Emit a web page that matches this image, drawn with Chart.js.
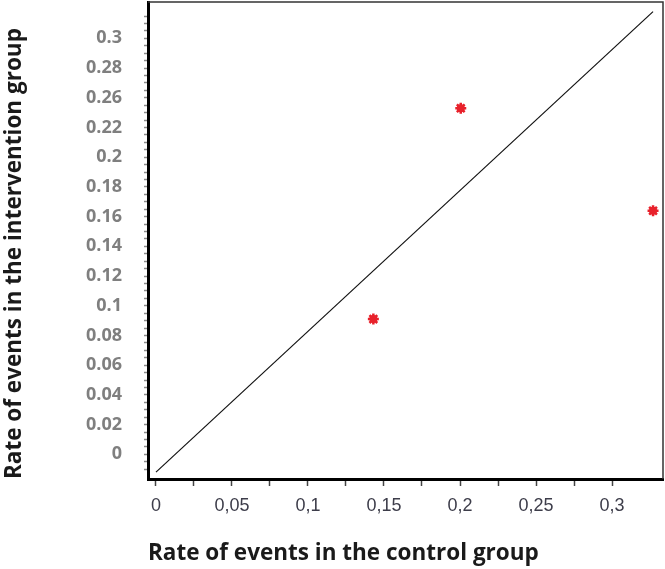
<!DOCTYPE html>
<html>
<head>
<meta charset="utf-8">
<script src="https://cdn.jsdelivr.net/npm/chart.js@4.4.1/dist/chart.umd.min.js"></script>
<style>
    body { margin: 0; background: #fff; }
    #wrap { width: 665px; height: 569px; }
</style>
</head>
<body>
<div id="wrap"><canvas id="scatter" width="665" height="569"></canvas></div>
<script>
// values
const controlRates = [0.143, 0.2005, 0.327];
const interventionRates = [0.091, 0.233, 0.164];

// the y = x reference line, as drawn
const lineX = [0, 0.327];
const lineY = [-0.012, 0.298];

const xTickLabels = ['0', '0,05', '0,1', '0,15', '0,2', '0,25', '0,3'];
const yTickLabels = ['0', '0.02', '0.04', '0.06', '0.08', '0.1', '0.12', '0.14', '0.16', '0.18', '0.2', '0.22', '0.26', '0.28', '0.3'];

const xTitle = 'Rate of events in the control group';
const yTitle = 'Rate of events in the intervention group';

const points = controlRates.map((x, i) => ({ x: x, y: interventionRates[i] }));
const diagonal = lineX.map((x, i) => ({ x: x, y: lineY[i] }));

// thin top and right edge of the frame
const framePlugin = {
    id: 'frame',
    afterDraw(chart) {
        const { ctx, chartArea: a } = chart;
        ctx.save();
        ctx.strokeStyle = '#333';
        ctx.lineWidth = 1.5;
        ctx.beginPath();
        ctx.moveTo(a.left, a.top);
        ctx.lineTo(a.right, a.top);
        ctx.lineTo(a.right, a.bottom);
        ctx.stroke();
        ctx.restore();
    }
};

// keep the plot box where it is in the picture
function noPadding(scale) {
    scale.paddingTop = 0;
    scale.paddingBottom = 0;
    scale.paddingLeft = 0;
    scale.paddingRight = 0;
}

const red = '#e8212b';

new Chart(document.getElementById('scatter'), {
    type: 'scatter',
    data: {
        datasets: [
            {
                data: diagonal,
                showLine: true,
                borderColor: '#111',
                borderWidth: 1.2,
                pointRadius: 0,
                order: 3
            },
            {
                data: points,
                pointStyle: 'star',
                radius: 5.5,
                borderWidth: 2.5,
                borderColor: red,
                backgroundColor: red,
                order: 2
            },
            {
                data: points,
                pointStyle: 'circle',
                radius: 4,
                borderWidth: 0,
                backgroundColor: red,
                order: 1
            }
        ]
    },
    options: {
        responsive: false,
        animation: false,
        layout: { autoPadding: false, padding: { top: 2, right: 2, left: 0, bottom: 0 } },
        plugins: {
            legend: { display: false },
            tooltip: { enabled: false }
        },
        scales: {
            x: {
                type: 'linear',
                min: -0.00526,
                max: 0.33355,
                afterFit(scale) {
                    scale.height = 90;
                    noPadding(scale);
                },
                afterBuildTicks(scale) {
                    const t = [];
                    for (let i = 0; i <= 12; i++) t.push({ value: i * 0.025 });
                    scale.ticks = t;
                },
                ticks: {
                    autoSkip: false,
                    maxRotation: 0,
                    padding: 9,
                    color: '#3d3d4a',
                    font: { family: 'Liberation Sans', size: 18 },
                    callback(value) {
                        const i = Math.round(value / 0.025);
                        return i % 2 === 0 ? xTickLabels[i / 2] : '';
                    }
                },
                grid: {
                    drawOnChartArea: false,
                    drawTicks: true,
                    tickLength: 7,
                    tickColor: '#444',
                    tickWidth: 1.5
                },
                border: { display: true, color: '#000', width: 3 },
                title: {
                    display: true,
                    text: xTitle,
                    align: 'start',
                    color: '#1a1a1a',
                    padding: { top: 0, bottom: 2 },
                    font: { family: 'Open Sans', size: 22.5, weight: 'bold' }
                }
            },
            y: {
                type: 'linear',
                min: -0.01663,
                max: 0.30448,
                afterFit(scale) {
                    scale.width = 148;
                    noPadding(scale);
                },
                afterBuildTicks(scale) {
                    const t = [];
                    for (let i = -2; i <= 60; i++) t.push({ value: i * 0.005 });
                    scale.ticks = t;
                },
                ticks: {
                    autoSkip: false,
                    padding: 22,
                    color: '#7f7f7f',
                    font: { family: 'Open Sans', size: 18, weight: 'bold' },
                    callback(value) {
                        const i = Math.round(value / 0.005);
                        return (i >= 0 && i % 4 === 0) ? yTickLabels[i / 4] : '';
                    }
                },
                grid: {
                    drawOnChartArea: false,
                    drawTicks: true,
                    tickLength: 4,
                    tickColor: '#8a8a8a',
                    tickWidth: 1.5
                },
                border: { display: true, color: '#000', width: 3 },
                title: {
                    display: true,
                    text: yTitle,
                    align: 'start',
                    color: '#1a1a1a',
                    padding: { top: 1, bottom: 0 },
                    font: { family: 'Open Sans', size: 22.5, weight: 'bold' }
                }
            }
        }
    },
    plugins: [framePlugin]
});
</script>
</body>
</html>
